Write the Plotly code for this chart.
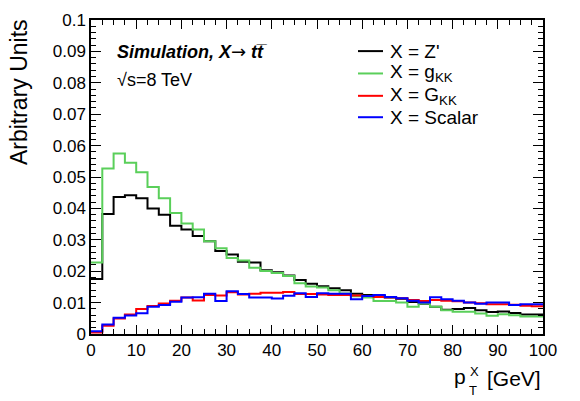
import numpy as np
import plotly.graph_objects as go

# Binning: 40 bins of 2.5 GeV between 0 and 100 GeV
bin_lo, bin_hi, bin_width = 0.0, 100.0, 2.5
bin_edges = np.arange(bin_lo, bin_hi + bin_width / 2, bin_width)

# Normalised pT distributions for each resonance hypothesis
zprime = [0.0175, 0.0382, 0.0436, 0.0442, 0.0432, 0.0400, 0.0380, 0.0345, 0.0333, 0.0312,
          0.0295, 0.0264, 0.0253, 0.0230, 0.0228, 0.0203, 0.0197, 0.0186, 0.0172, 0.0160,
          0.0152, 0.0146, 0.0139, 0.0128, 0.0124, 0.0122, 0.0116, 0.0112, 0.0102, 0.0096,
          0.0087, 0.0077, 0.0080, 0.0083, 0.0076, 0.0070, 0.0072, 0.0067, 0.0062, 0.0062]
gkk = [0.0228, 0.0527, 0.0575, 0.0545, 0.0515, 0.0468, 0.0432, 0.0385, 0.0352, 0.0333,
       0.0295, 0.0273, 0.0242, 0.0234, 0.0211, 0.0201, 0.0194, 0.0185, 0.0162, 0.0151,
       0.0148, 0.0139, 0.0129, 0.0120, 0.0116, 0.0105, 0.0105, 0.0100, 0.0087, 0.0097,
       0.0087, 0.0076, 0.0071, 0.0071, 0.0065, 0.0058, 0.0063, 0.0060, 0.0056, 0.0056]
graviton = [0.0005, 0.0026, 0.0049, 0.0062, 0.0080, 0.0089, 0.0097, 0.0106, 0.0116, 0.0107,
            0.0124, 0.0123, 0.0133, 0.0126, 0.0128, 0.0131, 0.0131, 0.0134, 0.0127, 0.0127,
            0.0126, 0.0124, 0.0124, 0.0123, 0.0121, 0.0118, 0.0117, 0.0114, 0.0108, 0.0105,
            0.0108, 0.0106, 0.0104, 0.0100, 0.0098, 0.0095, 0.0095, 0.0093, 0.0090, 0.0088]
scalar = [0.0009, 0.0030, 0.0052, 0.0059, 0.0066, 0.0087, 0.0092, 0.0103, 0.0116, 0.0117,
          0.0128, 0.0105, 0.0136, 0.0127, 0.0116, 0.0116, 0.0113, 0.0122, 0.0130, 0.0118,
          0.0130, 0.0128, 0.0128, 0.0111, 0.0121, 0.0124, 0.0118, 0.0114, 0.0106, 0.0100,
          0.0117, 0.0111, 0.0106, 0.0100, 0.0096, 0.0100, 0.0100, 0.0092, 0.0095, 0.0095]

series_names = ["X = Z'", "X = g<sub>KK</sub>", "X = G<sub>KK</sub>", "X = Scalar"]
series_colors = ["#000000", "#5acf5a", "#ff0000", "#0000ff"]

x_tick_vals = [0, 10, 20, 30, 40, 50, 60, 70, 80, 90, 100]
x_tick_text = ["0", "10", "20", "30", "40", "50", "60", "70", "80", "90", "100"]
y_tick_vals = [0, 0.01, 0.02, 0.03, 0.04, 0.05, 0.06, 0.07, 0.08, 0.09, 0.1]
y_tick_text = ["0", "0.01", "0.02", "0.03", "0.04", "0.05", "0.06", "0.07", "0.08", "0.09", "0.1"]

FONT = "Liberation Sans, Arial, Helvetica, sans-serif"
W, H = 580, 401
ML, MR, MT, MB = 91, 37, 11, 67
PW, PH = W - ML - MR, H - MT - MB


def fx(px):
    """pixel column -> paper x"""
    return (px - ML) / PW


def fy(py):
    """pixel row -> paper y"""
    return (H - MB - py) / PH


def label(text, px, py, size, xanchor="left", yanchor="middle", **kw):
    return dict(text=text, x=fx(px), y=fy(py), xref="paper", yref="paper",
                xanchor=xanchor, yanchor=yanchor, showarrow=False,
                font=dict(family=FONT, size=size, color="black"), **kw)


fig = go.Figure()

for vals, name, col in zip([zprime, gkk, graviton, scalar], series_names, series_colors):
    fig.add_trace(go.Scatter(
        x=bin_edges,
        y=list(vals) + [vals[-1]],
        mode="lines",
        line=dict(color=col, width=2, shape="hv"),
        name=name,
        showlegend=False,
        hoverinfo="skip",
    ))

axis_common = dict(
    showline=True, linecolor="black", linewidth=1.5, mirror="ticks",
    ticks="inside", tickcolor="black", tickwidth=1,
    showgrid=False, zeroline=False,
    tickfont=dict(family=FONT, size=17, color="black"),
)

fig.update_xaxes(
    range=[bin_lo, bin_hi], tickvals=x_tick_vals, ticktext=x_tick_text, ticklen=9,
    minor=dict(dtick=bin_width, ticklen=5, ticks="inside", tickcolor="black", tickwidth=1),
    **axis_common,
)
fig.update_yaxes(
    range=[0, 0.1], tickvals=y_tick_vals, ticktext=y_tick_text, ticklen=10,
    minor=dict(dtick=0.002, ticklen=5, ticks="inside", tickcolor="black", tickwidth=1),
    **axis_common,
)

arrow = '<span style="font-family:DejaVu Sans;font-weight:normal;font-style:normal">\u2192</span>'

annotations = [
    # Axis titles
    label("Arbitrary Units", 19, 8, 23, xanchor="center", yanchor="top", textangle=-90),
    label("[GeV]", 543, 380, 21, xanchor="right"),
    label("p", 468, 378, 21, xanchor="right"),
    label("X", 468, 373, 13),
    label("T", 467, 392, 13),
    # Labels inside the frame
    label("<b><i>Simulation, X" + arrow + " tt\u0305</i></b>", 115, 43, 18),
    label("\u221as=8 TeV", 115, 73, 18),
]

# Legend drawn by hand: short line sample plus label
legend_rows = [43, 66, 89, 111]
shapes = []
for row, name, col in zip(legend_rows, series_names, series_colors):
    shapes.append(dict(
        type="line", xref="paper", yref="paper",
        x0=fx(358), x1=fx(383), y0=fy(row), y1=fy(row),
        line=dict(color=col, width=2),
    ))
    annotations.append(label(name, 388, row, 19))

fig.update_layout(
    width=W, height=H,
    margin=dict(l=ML, r=MR, t=MT, b=MB, pad=0),
    paper_bgcolor="white", plot_bgcolor="white",
    annotations=annotations, shapes=shapes,
    showlegend=False,
)

fig.write_html("out.html")
